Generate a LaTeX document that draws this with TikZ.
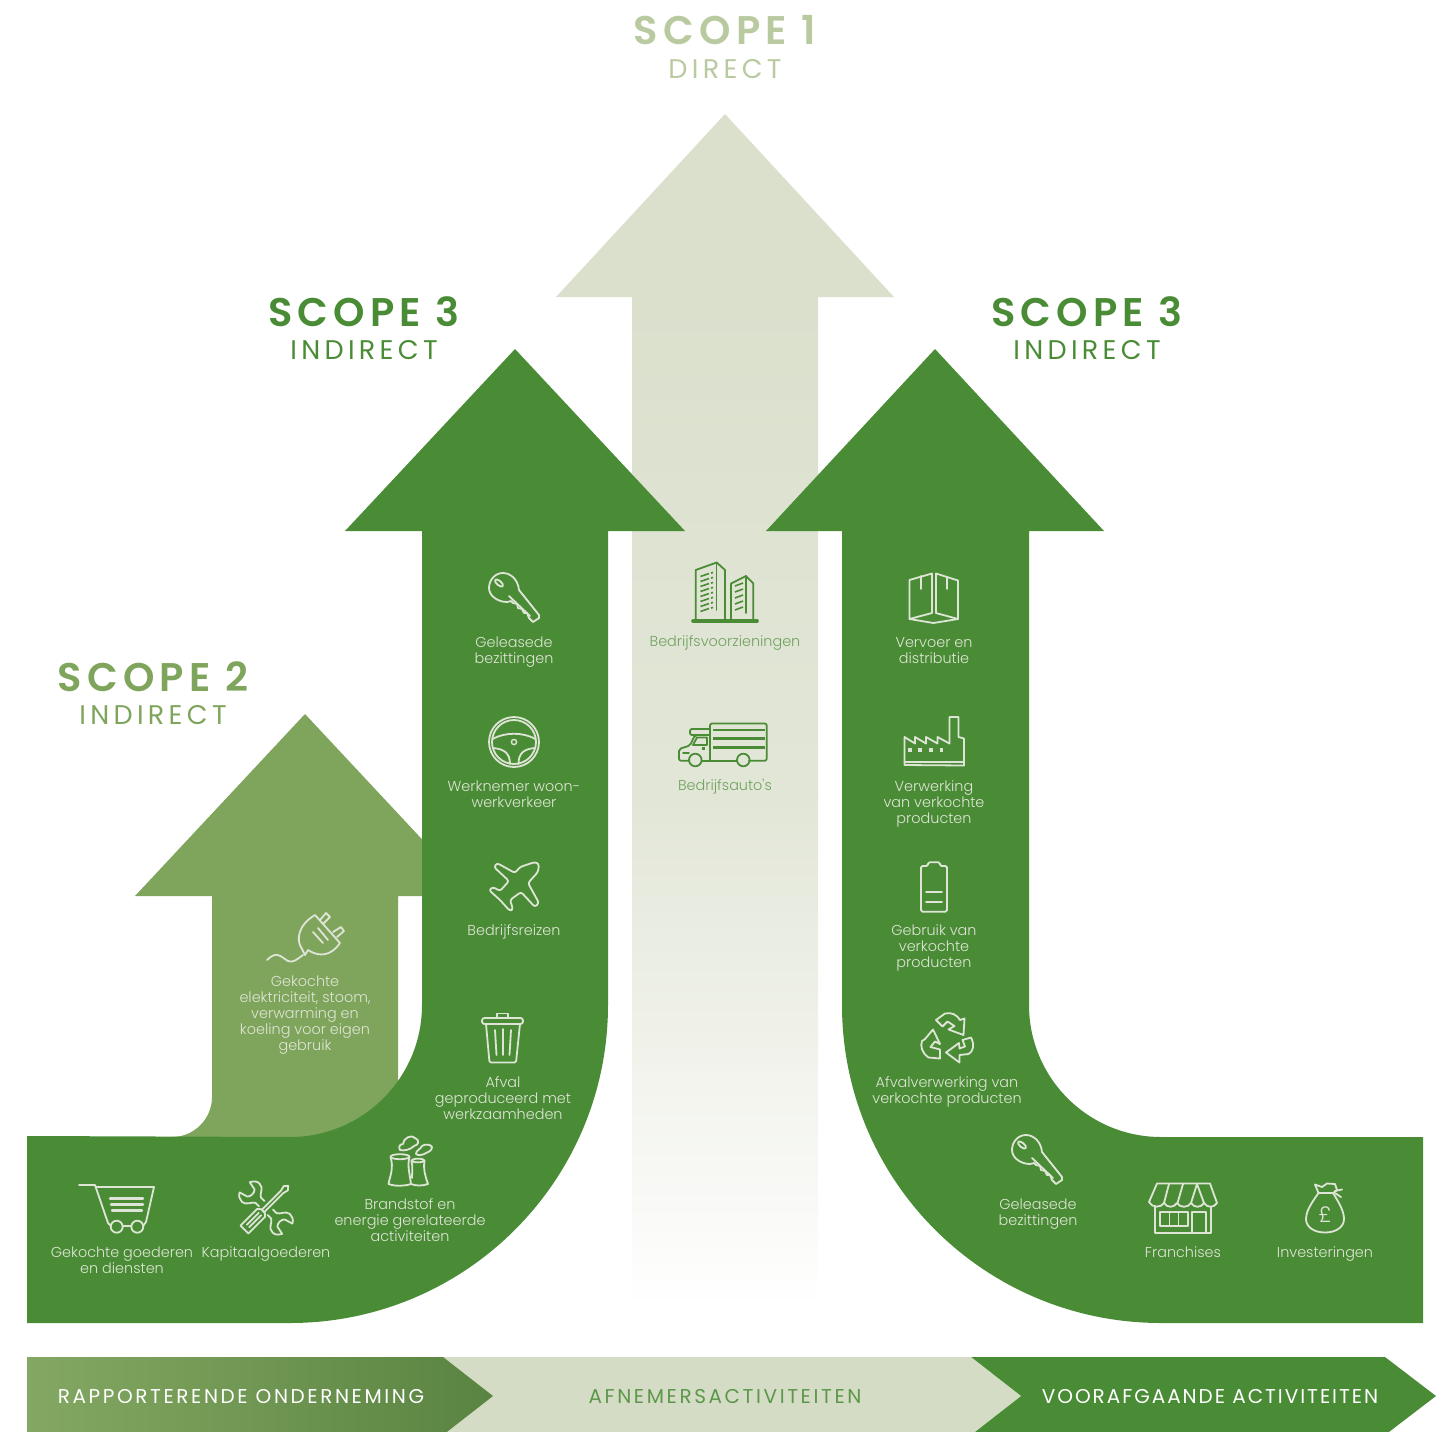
\documentclass[tikz,border=0pt]{standalone}
\usepackage{fontspec}
\setmainfont{Poppins}
\newfontfamily\labelfont{Poppins Light}
\newfontfamily\barfont{Poppins}[LetterSpace=13]
\newfontfamily\barfontb{Poppins}[LetterSpace=9.8]
\newfontfamily\bigfont{Poppins SemiBold}[LetterSpace=13]
\newfontfamily\subfont{Poppins}[LetterSpace=16]
\definecolor{dg}{HTML}{4A8C36}
\definecolor{mg}{HTML}{7FA55D}
\definecolor{lg}{HTML}{DBE0CD}
\definecolor{ic}{HTML}{DFE5D6}
\definecolor{tg}{HTML}{B9CAA0}
\definecolor{cl}{HTML}{6FA35E}
\tikzset{
 lab/.style={align=center,inner sep=0pt,font=\labelfont\fontsize{14.4}{16}\selectfont,text=ic},
 clab/.style={lab,text=cl},
 bigt/.style={inner sep=0pt,font=\bigfont\fontsize{40}{40}\selectfont},
 subt/.style={inner sep=0pt,font=\subfont\fontsize{27}{27}\selectfont},
 bart/.style={inner sep=0pt,font=\barfont\fontsize{20}{20}\selectfont},
 bartb/.style={inner sep=0pt,font=\barfontb\fontsize{20}{20}\selectfont},
 icn/.style={draw=ic,line width=1.8pt,line join=round,line cap=round,fill=none},
 gicn/.style={draw=dg,line width=1.8pt,line join=round,line cap=round,fill=none},
 keyicon/.pic={
  \draw[icn] (5,-8) .. controls (4,-19) and (-4,-25) .. (-11,-25) .. controls (-19,-25) and (-25,-18) .. (-25,-10)
    .. controls (-25,-2) and (-16,4) .. (-7,4) .. controls (-5,4) and (-4,3) .. (-3,3)
    -- (-1,5) -- (3,6) -- (4,10) -- (8,11) -- (10,15) -- (13,15) -- (15,20) -- (19,24) -- (25,20) -- (25,17) -- cycle;
  \draw[icn] (-5,-2) -- (16,18);
  \draw[icn,rotate around={-40:(-15,-15)}] (-15,-15) ellipse [x radius=5,y radius=2.2];
 }
}
\begin{document}
\begin{tikzpicture}[x=1pt,y=-1pt]
\useasboundingbox (0,0) rectangle (1449,1432);
\begin{scope}
\clip (0,0) rectangle (1449,1432);
% centre arrow
\shade[top color=lg,bottom color=lg!80!white] (632,296) rectangle (818,800);
\shade[top color=lg!80!white,bottom color=white] (632,799.5) rectangle (818,1310);
\fill[lg] (725,114) -- (894,297) -- (556,297) -- cycle;
% scope 2 arrow
\fill[mg] (305,714) -- (475,896) -- (398,896) -- (398,1137) -- (172,1137) .. controls (194,1137) and (212,1119) .. (212,1097) -- (212,896) -- (135,896) -- cycle;
% left arrow
\fill[dg] (515,349) -- (685,531) -- (608,531) -- (608,1005) .. controls (608,1180.6) and (465.6,1323) .. (290,1323) -- (27,1323) -- (27,1136) -- (290,1137) .. controls (362.9,1137) and (422,1077.9) .. (422,1005) -- (422,531) -- (345,531) -- cycle;
% right arrow
\fill[dg] (935,349) -- (1104,531) -- (1029,531) -- (1029,1005) .. controls (1029,1077.9) and (1088.1,1137) .. (1161,1137) -- (1423,1137) -- (1423,1323) -- (1161,1323) .. controls (984.8,1323) and (842,1181.2) .. (842,1005) -- (842,531) -- (766,531) -- cycle;
% bars
\fill[dg] (960,1357) -- (1385,1357) -- (1436,1396) -- (1385,1435) -- (960,1435) -- cycle;
\fill[lg!95!dg] (430,1357) -- (971,1357) -- (1021,1396) -- (971,1435) -- (430,1435) -- cycle;
\shade[left color=mg!95!lg,right color=mg!60!dg!85!black] (27,1357) -- (443,1357) -- (493,1396) -- (443,1435) -- (27,1435) -- cycle;
\end{scope}
% titles
\node[bigt,text=tg] (t1) at (725,30) {SCOPE 1};
\node[subt,text=tg] (s1) at (725,69) {DIRECT};
\node[bigt,text=dg] (t3a) at (364,312) {SCOPE 3};
\node[subt,text=dg] (s3a) at (364,350) {INDIRECT};
\node[bigt,text=dg] (t3b) at (1087,312) {SCOPE 3};
\node[subt,text=dg] (s3b) at (1087,350) {INDIRECT};
\node[bigt,text=mg] (t2) at (153,677) {SCOPE 2};
\node[subt,text=mg] (s2) at (153,715) {INDIRECT};
% bar texts
\node[bart,text=white] (b1) at (241,1396.5) {RAPPORTERENDE ONDERNEMING};
\node[bart,text=dg!90!white] (b2) at (725,1396.5) {AFNEMERSACTIVITEITEN};
\node[bartb,text=white] (b3) at (1210,1396.5) {VOORAFGAANDE ACTIVITEITEN};
% labels
\node[lab] (l1) at (514,652) {Geleasede\\bezittingen};
\node[lab] (l2) at (514,794) {Werknemer woon-\\werkverkeer};
\node[lab] (l3) at (514,932) {Bedrijfsreizen};
\node[lab] (l4) at (503,1098) {Afval\\geproduceerd met\\werkzaamheden};
\node[lab] (l5) at (410,1220) {Brandstof en\\energie gerelateerde\\activiteiten};
\node[lab] (l6) at (266,1254) {Kapitaalgoederen};
\node[lab] (l7) at (122,1260) {Gekochte goederen\\en diensten};
\node[lab] (l8) at (305,1015) {Gekochte\\elektriciteit, stoom,\\verwarming en\\koeling voor eigen\\gebruik};
\node[clab] (l9) at (725,643) {Bedrijfsvoorzieningen};
\node[clab] (l10) at (725,787) {Bedrijfsauto's};
\node[lab] (l11) at (934,650.5) {Vervoer en\\distributie};
\node[lab] (l12) at (934,804) {Verwerking\\van verkochte\\producten};
\node[lab] (l13) at (934,948) {Gebruik van\\verkochte\\producten};
\node[lab] (l14) at (947,1092) {Afvalverwerking van\\verkochte producten};
\node[lab] (l15) at (1038,1214) {Geleasede\\bezittingen};
\node[lab] (l16) at (1183,1252) {Franchises};
\node[lab] (l17) at (1325,1254) {Investeringen};
% keys
\pic at (514,598) {keyicon};
\pic at (1037,1160) {keyicon};
% wheel
\draw[icn] (514,742) circle [radius=25];
\draw[icn] (514,742) circle [radius=22];
\draw[icn,line width=1.4pt] (514,742) circle [radius=2.6];
\draw[icn] (492.5,739) .. controls (505,732) and (523,732) .. (535.5,739);
\draw[icn] (493,748) .. controls (504,749) and (510,753) .. (510,764);
\draw[icn] (535,748) .. controls (524,749) and (518.5,753) .. (518.5,764);
% plane
\draw[icn,rounded corners=2.5pt] (535,862) -- (520,867) -- (515,873) -- (497,863) -- (494,867) -- (509,881) -- (500,891) -- (493,887) -- (489,890) -- (500,900) -- (510,911) -- (513,909) -- (510,900) -- (521,892) -- (535,907) -- (539,903) -- (528,883) -- (538,872) -- (539,864) -- cycle;
% trash
\draw[icn,rounded corners=2.5pt] (482,1018) rectangle (523,1024);
\draw[icn] (497,1018) -- (497,1013.5) -- (508,1013.5) -- (508,1018);
\draw[icn,rounded corners=1.5pt] (486,1024) -- (489.5,1062.5) -- (516,1062.5) -- (520,1024);
\draw[icn] (495,1030) -- (496.5,1055) (503,1029) -- (503,1055) (511,1030) -- (509.5,1055);
% plug
\draw[icn] (315,915) .. controls (298,925) and (296,940) .. (301.5,948) -- (305,955) -- (308,950) .. controls (320,958) and (332,955) .. (340,943) -- cycle;
\draw[icn] (320,920) -- (326,913) -- (330,917) -- (323,924);
\draw[icn] (333,932) -- (341,927) -- (344,931) -- (337,937);
\draw[icn] (313,932) -- (323,943) (318,928) -- (328,940);
\draw[icn] (303,955) .. controls (296,960) and (293,963) .. (288,961) .. controls (281,957) and (277,950) .. (267,960);
% buildings
\draw[gicn] (695.7,621) -- (695.7,570) -- (716.7,562.5) -- (725,570) -- (725,621);
\draw[gicn] (716.5,563) -- (716.5,610);
\draw[gicn] (731,621) -- (731,583.5) -- (746,576) -- (753.3,583.5) -- (753.3,621);
\draw[gicn] (746,576) -- (746,613);
\draw[gicn,line width=3.6pt] (693,621) -- (757,621);
\foreach \yy in {574,579,584,589,594,599,604,609}{
 \draw[dg,line width=1.6pt] (700.5,\yy+2.5) -- (709,\yy-.5) (711,\yy-1) -- (713,\yy-1.5);}
\foreach \yy in {586,592,598,604,610}{
 \draw[dg,line width=1.6pt] (735,\yy) -- (743,\yy-3);}
% truck
\draw[gicn,rounded corners=2pt] (749,760.7) -- (766.7,760.7) -- (766.7,723.5) -- (710,723.5) -- (710,760.7);
\draw[gicn] (702,760.7) -- (737,760.7);
\draw[dg,line width=2.6pt] (713,730) -- (765,730) (713,738.5) -- (765,738.5) (713,747.5) -- (765,747.5);
\draw[gicn,rounded corners=2pt] (689,760.7) -- (679,760.7) -- (679,749) -- (690,745.5) -- (695,735) -- (710,735);
\draw[gicn,rounded corners=2pt] (710,729) -- (690,729) -- (690,735) -- (710,735);
\draw[gicn] (693,745) -- (697,737.5) -- (707,737.5) -- (707,745) -- cycle;
\draw[gicn] (683,753) -- (689,753);
\fill[dg] (702,747) rectangle (705,750);
\draw[gicn] (695.3,760) circle [radius=6.3];
\draw[gicn] (743.3,760) circle [radius=6.3];
% box
\draw[icn] (909.5,580) -- (932,573.5) -- (932,613) -- (909.5,619) -- cycle;
\draw[icn] (936,573.5) -- (958,580.5) -- (958,619) -- (936,613) -- cycle;
\draw[icn] (909.5,619) -- (933.5,623) -- (958,619);
\draw[icn] (921,576) -- (921,589) (947,577) -- (947,589);
% factory
\draw[icn] (904.5,765) -- (904.5,737) -- (915,743.5) -- (915,737) -- (926,743.5) -- (926,737) -- (937.5,743.5) -- (937.5,737) -- (949.5,743.5) -- (949.5,717) -- (958.5,717) -- (958.5,737) -- (964,738.5) -- (964,765.5) -- cycle;
\draw[icn] (904.5,762) -- (964,762);
\foreach \xx in {910,920,931,941.5}{\fill[ic] (\xx-1.8,748.2) rectangle (\xx+1.8,751.8);}
% battery
\draw[icn,rounded corners=1.5pt] (921,866) -- (928,866) -- (928,862.3) -- (940,862.3) -- (940,866) -- (947,866) -- (947,911.7) -- (921,911.7) -- cycle;
\draw[icn] (926,891.7) -- (942,891.7) (926,901.7) -- (942,901.7);
% recycle
\draw[icn] (936,1020) -- (945,1013.5) .. controls (952,1012) and (957,1015) .. (960,1020) -- (964.5,1018.5) -- (963.5,1035) -- (948.5,1029.5) -- (954.5,1026) -- (947.5,1021.5) -- (942.5,1026.5) -- cycle;
\draw[icn] (971,1037.5) .. controls (975,1045) and (973,1052) .. (968.5,1054) -- (959.5,1055) -- (959.5,1062.5) -- (946,1052.5) -- (959,1043) -- (959.5,1048.5) -- (965,1046.5) -- (962.5,1040) -- cycle;
\draw[icn] (940,1058.5) -- (928.5,1057.5) .. controls (922,1053) and (920,1046) .. (922,1041) -- (925,1039) -- (933,1029.5) -- (940,1044) -- (935,1041.5) -- (930.5,1047) -- (940,1049.5) -- cycle;
% cart
\draw[icn] (79,1185) -- (95,1185) -- (108,1223) -- (111,1226) (123,1226) -- (131,1226) (143,1226) -- (146,1222) -- (154,1187) -- (96,1187);
\draw[icn,line width=2.4pt] (110,1198.3) -- (143,1198.3) (111,1204.3) -- (143,1204.3) (112,1210.3) -- (142,1210.3);
\draw[icn] (116.7,1226.7) circle [radius=6];
\draw[icn] (137.3,1226.7) circle [radius=6];
% tools
\begin{scope}[shift={(266,1208)},x={(.6pt,.6pt)},y={(.6pt,-.6pt)}]
 \draw[icn] (-36,-6.5) -- (-8,-6.5) -- (-5,-3) -- (-5,3) -- (-8,6.5) -- (-36,6.5) -- cycle;
 \draw[icn] (-5,-2) -- (27,-2) -- (33,-3.5) -- (37,0) -- (33,3.5) -- (27,2) -- (-5,2);
 \draw[icn] (-30,-2) -- (-10,-2) (-30,2) -- (-10,2);
 \foreach \s in {1,-1}{
 \draw[icn] (\s*-4.5,\s*7) -- (\s*-4.5,\s*13) .. controls (\s*-7,\s*18) and (\s*-15,\s*18) .. (\s*-15,\s*26) .. controls (\s*-15,\s*30) and (\s*-12,\s*33) .. (\s*-8,\s*35) -- (\s*-6,\s*25) .. controls (\s*-3,\s*22) and (\s*3,\s*22) .. (\s*6,\s*25) -- (\s*9,\s*35) .. controls (\s*13,\s*33) and (\s*15,\s*29) .. (\s*15,\s*25) .. controls (\s*14,\s*18) and (\s*7,\s*18) .. (\s*4.5,\s*13) -- (\s*4.5,\s*7);}
\end{scope}
% power plant
\draw[icn] (400,1156.7) ellipse [x radius=9.5,y radius=2.5];
\draw[icn] (390.5,1157) .. controls (394,1168) and (390,1176) .. (388.5,1184) .. controls (395,1186.5) and (405,1186) .. (411,1184);
\draw[icn] (409.5,1157) .. controls (407,1166) and (410,1175) .. (411,1184);
\draw[icn] (418,1160.5) ellipse [x radius=6.5,y radius=1.8];
\draw[icn] (424.5,1161) .. controls (423,1170) and (426,1178) .. (428,1184) .. controls (422,1186) and (416,1186) .. (411,1184);
\draw[icn] (411.5,1161) .. controls (413,1167) and (412,1172) .. (412,1178);
\draw[icn] (400,1150) .. controls (398,1147) and (400,1144) .. (403,1144) .. controls (403,1138) and (412,1134) .. (415,1138) .. controls (420,1140) and (419,1145) .. (414,1146) .. controls (410,1150) and (404,1151) .. (400,1150) -- cycle;
\draw[icn] (416,1154) .. controls (416,1150) and (420,1150) .. (422,1146) .. controls (424,1144) and (431,1144) .. (432,1147) .. controls (432,1151) and (428,1152) .. (426,1153) .. controls (423,1155) and (418,1156) .. (416,1154) -- cycle;
% shop
\draw[icn] (1157,1183.5) -- (1210,1183.5) -- (1217,1203) .. controls (1214,1208) and (1207,1208) .. (1204,1203) .. controls (1201,1208) and (1194,1208) .. (1191,1203) .. controls (1188,1208) and (1180,1208) .. (1177,1203) .. controls (1174,1208) and (1167,1208) .. (1164,1203) .. controls (1161,1208) and (1152,1208) .. (1149,1202) -- cycle;
\draw[icn] (1169,1184) -- (1164,1203) (1183,1184) -- (1177.5,1203) (1197,1184) -- (1191,1203) (1197,1184) -- (1204,1203);
\draw[icn] (1155,1207) -- (1155,1232.7) -- (1210.7,1232.7) -- (1210.7,1207);
\draw[icn] (1192,1232.7) -- (1192,1211.7) -- (1206,1211.7) -- (1206,1232.7);
\draw[icn] (1160,1211.7) rectangle (1188,1226);
\draw[icn] (1169.5,1211.7) -- (1169.5,1226) (1178.5,1211.7) -- (1178.5,1226);
% money bag
\draw[icn] (1318.5,1193) .. controls (1310,1205) and (1306,1212) .. (1306,1219) .. controls (1306,1227) and (1314,1232.5) .. (1325,1232.5) .. controls (1336,1232.5) and (1344,1227) .. (1344,1219) .. controls (1344,1212) and (1340,1204) .. (1333,1193);
\draw[icn] (1318.5,1193) -- (1315,1184.5) -- (1322,1187) -- (1327,1183.5) -- (1335,1184) -- (1337,1190) -- (1333,1193) -- cycle;
\draw[icn] (1335,1191) -- (1342,1189.5) (1335,1193) -- (1341,1197);
\node[inner sep=0pt,text=ic,font=\labelfont\fontsize{22}{22}\selectfont] (pound) at (1325,1215) {£};
\end{tikzpicture}
\end{document}
